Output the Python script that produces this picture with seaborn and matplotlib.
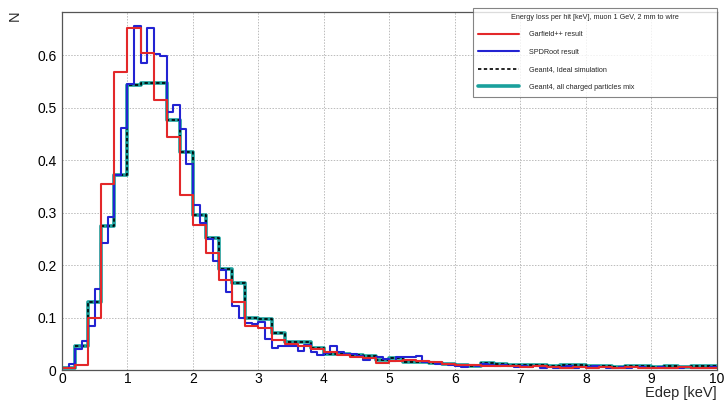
import numpy as np
import pandas as pd
import matplotlib
matplotlib.use("Agg")
import matplotlib.pyplot as plt
from matplotlib.lines import Line2D
from matplotlib.ticker import MultipleLocator
import seaborn as sns

# ------------------------------------------ données --------------------------------------------------------------------
edges_02 = np.round(np.arange(0, 10.0001, 0.2), 2)   # bins 0.2 keV
edges_01 = np.round(np.arange(0, 10.0001, 0.1), 2)   # bins 0.1 keV (SPDRoot)

garfield = [0.003, 0.010, 0.100, 0.354, 0.568, 0.651, 0.603, 0.514, 0.444, 0.333,
            0.276, 0.222, 0.171, 0.130, 0.084, 0.080, 0.058, 0.050, 0.045, 0.040,
            0.034, 0.028, 0.025, 0.022, 0.014, 0.018, 0.020, 0.018, 0.016, 0.012,
            0.010, 0.009, 0.008, 0.008, 0.007, 0.006, 0.007, 0.005, 0.004, 0.005,
            0.004, 0.005, 0.004, 0.005, 0.004, 0.003, 0.004, 0.005, 0.004, 0.004]

geant4_mix = [0.003, 0.046, 0.130, 0.275, 0.371, 0.543, 0.547, 0.547, 0.476, 0.416,
              0.295, 0.251, 0.192, 0.165, 0.099, 0.097, 0.070, 0.054, 0.054, 0.042,
              0.031, 0.030, 0.028, 0.026, 0.020, 0.022, 0.015, 0.016, 0.014, 0.012,
              0.009, 0.008, 0.013, 0.012, 0.010, 0.010, 0.009, 0.008, 0.010, 0.010,
              0.007, 0.008, 0.006, 0.008, 0.008, 0.006, 0.007, 0.006, 0.007, 0.008]

# simulation idéale : superposée au mélange Geant4
geant4_ideal = list(geant4_mix)

spdroot = [0.003, 0.011, 0.040, 0.056, 0.083, 0.154, 0.242, 0.292, 0.371, 0.461,
           0.545, 0.655, 0.584, 0.651, 0.602, 0.598, 0.492, 0.505, 0.459, 0.392,
           0.314, 0.280, 0.250, 0.208, 0.190, 0.149, 0.122, 0.100, 0.089, 0.088,
           0.092, 0.059, 0.042, 0.046, 0.046, 0.046, 0.036, 0.048, 0.035, 0.028,
           0.032, 0.045, 0.035, 0.030, 0.030, 0.026, 0.020, 0.022, 0.024, 0.021,
           0.018, 0.025, 0.024, 0.024, 0.026, 0.016, 0.015, 0.011, 0.012, 0.010,
           0.008, 0.006, 0.010, 0.008, 0.012, 0.010, 0.008, 0.009, 0.007, 0.006,
           0.007, 0.006, 0.008, 0.003, 0.006, 0.004, 0.005, 0.007, 0.004, 0.005,
           0.006, 0.007, 0.005, 0.004, 0.003, 0.005, 0.004, 0.006, 0.005, 0.004,
           0.003, 0.005, 0.004, 0.003, 0.004, 0.005, 0.004, 0.003, 0.004, 0.005]

legend_title = "Energy loss per hit [keV], muon 1 GeV, 2 mm to wire"
labels = ["Garfield++ result", "SPDRoot result", "Geant4, Ideal simulation",
          "Geant4, all charged particles mix"]

RED = "#e3282a"
BLUE = "#2323d2"
TEAL = "#1aa09c"


def make_df(edges, values):
    c = (edges[:-1] + edges[1:]) / 2
    return pd.DataFrame({"edep": c, "n": np.asarray(values, dtype=float)})


df_garf = make_df(edges_02, garfield)
df_mix = make_df(edges_02, geant4_mix)
df_ideal = make_df(edges_02, geant4_ideal)
df_spd = make_df(edges_01, spdroot)

# ------------------------------------------ figure -------------------------------------------------
sns.set_style("white")
plt.rcParams["font.family"] = ["Liberation Sans", "DejaVu Sans"]

fig = plt.figure(figsize=(7.27, 4.01), dpi=100)
ax = fig.add_axes([0.0853, 0.0773, 0.9007, 0.8927])

sns.histplot(data=df_mix, x="edep", weights="n", bins=list(edges_02), element="step",
             fill=False, color=TEAL, linewidth=2.6, ax=ax)
sns.histplot(data=df_ideal, x="edep", weights="n", bins=list(edges_02), element="step",
             fill=False, color="black", linewidth=1.2, linestyle=(0, (2, 1.5)), ax=ax)
sns.histplot(data=df_spd, x="edep", weights="n", bins=list(edges_01), element="step",
             fill=False, color=BLUE, linewidth=1.5, ax=ax)
sns.histplot(data=df_garf, x="edep", weights="n", bins=list(edges_02), element="step",
             fill=False, color=RED, linewidth=1.5, ax=ax)

ax.set_xlim(0, 10)
ax.set_ylim(0, 0.682)
ax.xaxis.set_major_locator(MultipleLocator(1))
ax.xaxis.set_minor_locator(MultipleLocator(0.2))
ax.yaxis.set_minor_locator(MultipleLocator(0.02))
ax.set_yticks([0, 0.1, 0.2, 0.3, 0.4, 0.5, 0.6])
ax.set_yticklabels(["0", "0.1", "0.2", "0.3", "0.4", "0.5", "0.6"])
ax.tick_params(axis="both", which="both", direction="in", labelsize=10, colors="#333333",
               labelcolor="black")
ax.tick_params(axis="y", which="major", length=11, pad=4)
ax.tick_params(axis="y", which="minor", length=6)
ax.tick_params(axis="x", which="major", length=7, pad=1.5)
ax.tick_params(axis="x", which="minor", length=4)
ax.grid(True, which="major", linestyle=(0, (1.5, 1.5)), color="#bbbbbb", linewidth=0.7)
for sp in ax.spines.values():
    sp.set_color("#555555")
    sp.set_linewidth(0.9)

ax.set_xlabel("")
ax.set_ylabel("")
fig.text(0.986, 0.002, "Edep [keV]", ha="right", va="bottom", fontsize=10.5)
fig.text(0.010, 0.975, "N", ha="left", va="top", fontsize=10.5, rotation=90)

handles = [Line2D([], [], color=RED, lw=1.5),
           Line2D([], [], color=BLUE, lw=1.5),
           Line2D([], [], color="black", lw=1.2, linestyle=(0, (2, 1.5))),
           Line2D([], [], color=TEAL, lw=2.6)]
leg = ax.legend(handles, labels, title=legend_title, loc="upper left", mode="expand",
                bbox_to_anchor=(0.627, 0.76, 0.374, 0.251), fontsize=5.2, title_fontsize=5.2,
                handlelength=5.6, handletextpad=1.4, labelspacing=1.45,
                borderpad=0.8, borderaxespad=0, fancybox=False, frameon=True,
                alignment="center")
leg.get_frame().set_edgecolor("#666666")
leg.get_frame().set_linewidth(0.8)

fig.savefig("out.png", dpi=100)
